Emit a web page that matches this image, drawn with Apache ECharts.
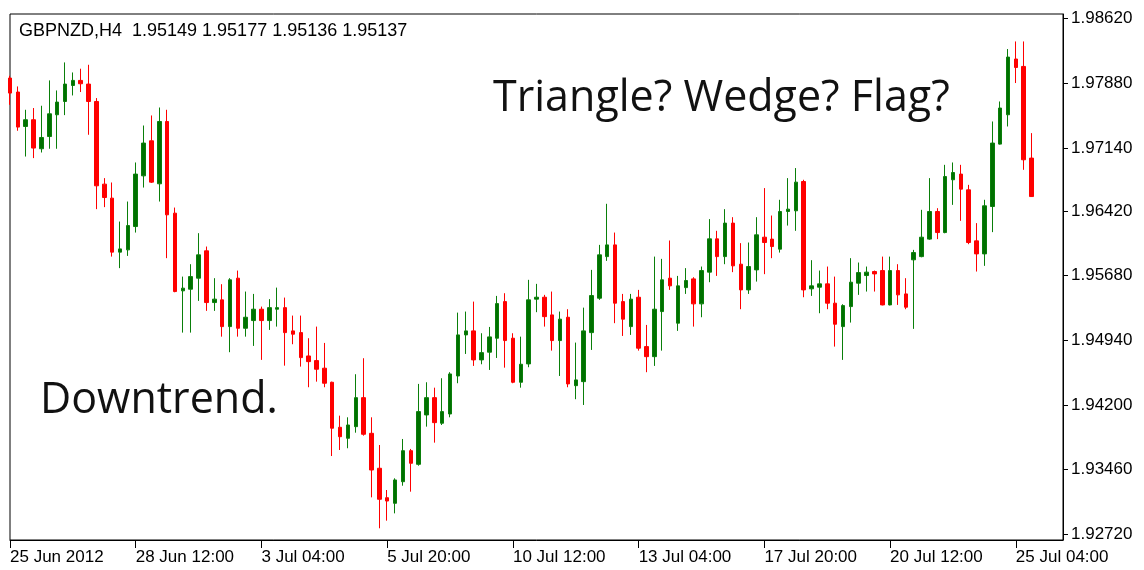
<!DOCTYPE html>
<html>
<head>
<meta charset="utf-8">
<title>GBPNZD,H4</title>
<script src="https://cdn.jsdelivr.net/npm/echarts@6/dist/echarts.min.js"></script>
<style>
  html, body { margin: 0; padding: 0; background: #fff; }
  #chart { width: 1144px; height: 570px; }
</style>
</head>
<body>
<div id="chart"></div>
<script>
// GBPNZD H4 bars (open / close / low / high)
var openP = [
  1.97941, 1.97781, 1.97387, 1.97464, 1.97132, 1.97272, 1.97521, 1.97673, 1.97856, 1.97914,
  1.97872, 1.97673, 1.96727, 1.96567, 1.95949, 1.95975, 1.96242, 1.96822, 1.97223, 1.96731,
  1.97444, 1.96395, 1.95506, 1.95525, 1.95651, 1.95964, 1.95372, 1.95403, 1.95097, 1.95651,
  1.95078, 1.95166, 1.95296, 1.95166, 1.95296, 1.95314, 1.95048, 1.95028, 1.94761, 1.94708,
  1.94621, 1.94460, 1.93945, 1.93819, 1.93952, 1.94284, 1.93876, 1.93476, 1.93139, 1.93075,
  1.93322, 1.93677, 1.93521, 1.94086, 1.94284, 1.93991, 1.94097, 1.94532, 1.95002, 1.95048,
  1.94716, 1.94804, 1.94964, 1.95383, 1.94964, 1.94460, 1.94670, 1.95411, 1.95433, 1.95231,
  1.94937, 1.95204, 1.94421, 1.94467, 1.95028, 1.95422, 1.95898, 1.96032, 1.95383, 1.95097,
  1.95433, 1.94868, 1.94753, 1.95269, 1.95651, 1.95136, 1.95543, 1.95643, 1.95357, 1.95720,
  1.96101, 1.95898, 1.96281, 1.95811, 1.95517, 1.95746, 1.96120, 1.96098, 1.95983, 1.96414,
  1.96422, 1.96757, 1.95529, 1.95548, 1.95586, 1.95365, 1.95097, 1.95326, 1.95594, 1.95681,
  1.95727, 1.95738, 1.95345, 1.95738, 1.95471, 1.95861, 1.95898, 1.96098, 1.96414, 1.96173,
  1.96777, 1.96842, 1.96662, 1.96078, 1.95929, 1.96471, 1.97185, 1.97521, 1.98159, 1.98074,
  1.97025
];
var closeP = [
  1.97769, 1.97380, 1.97464, 1.97140, 1.97261, 1.97532, 1.97666, 1.97872, 1.97914, 1.97876,
  1.97673, 1.96708, 1.96574, 1.95949, 1.95986, 1.96253, 1.96842, 1.97197, 1.96750, 1.97444,
  1.96376, 1.95498, 1.95537, 1.95669, 1.95918, 1.95372, 1.95411, 1.95097, 1.95632, 1.95078,
  1.95204, 1.95296, 1.95166, 1.95314, 1.95314, 1.95028, 1.95010, 1.94742, 1.94696, 1.94609,
  1.94449, 1.93934, 1.93837, 1.93971, 1.94284, 1.93865, 1.93456, 1.93121, 1.93101, 1.93342,
  1.93677, 1.93533, 1.94124, 1.94284, 1.93998, 1.94124, 1.94555, 1.95002, 1.95048, 1.94716,
  1.94799, 1.94979, 1.95360, 1.94937, 1.94460, 1.94666, 1.95403, 1.95433, 1.95211, 1.94937,
  1.95182, 1.94441, 1.94487, 1.95048, 1.95452, 1.95918, 1.96032, 1.95365, 1.95182, 1.95411,
  1.94850, 1.94753, 1.95296, 1.95632, 1.95563, 1.95563, 1.95624, 1.95357, 1.95738, 1.96101,
  1.95898, 1.96281, 1.95792, 1.95517, 1.95784, 1.96147, 1.96059, 1.96013, 1.96414, 1.96441,
  1.96750, 1.95517, 1.95563, 1.95586, 1.95365, 1.95124, 1.95337, 1.95605, 1.95715, 1.95720,
  1.95700, 1.95345, 1.95738, 1.95460, 1.95319, 1.95944, 1.96120, 1.96414, 1.96173, 1.96814,
  1.96860, 1.96670, 1.96059, 1.95929, 1.96479, 1.97197, 1.97598, 1.98181, 1.98062, 1.97006,
  1.96585
];
var lowP = [
  1.97635, 1.97338, 1.97043, 1.97025, 1.97089, 1.97132, 1.97132, 1.97517, 1.97742, 1.97781,
  1.97292, 1.96441, 1.96464, 1.95898, 1.95766, 1.95906, 1.96173, 1.96688, 1.96740, 1.96528,
  1.95880, 1.95490, 1.95028, 1.95028, 1.95391, 1.95277, 1.95277, 1.94982, 1.94804, 1.94982,
  1.94982, 1.94876, 1.94716, 1.95059, 1.95097, 1.94650, 1.94895, 1.94639, 1.94403, 1.94467,
  1.94403, 1.93616, 1.93685, 1.93705, 1.93883, 1.93849, 1.93143, 1.92789, 1.92876, 1.92960,
  1.93276, 1.93208, 1.93505, 1.93952, 1.93769, 1.93971, 1.94059, 1.94449, 1.94784, 1.94647,
  1.94666, 1.94601, 1.94738, 1.94627, 1.94449, 1.94398, 1.94632, 1.95262, 1.95097, 1.94822,
  1.94532, 1.94403, 1.94266, 1.94200, 1.94830, 1.95403, 1.95849, 1.95136, 1.94990, 1.95002,
  1.94822, 1.94575, 1.94647, 1.94822, 1.95517, 1.95048, 1.95471, 1.95097, 1.95204, 1.95605,
  1.95677, 1.95811, 1.95720, 1.95296, 1.95471, 1.95612, 1.95697, 1.95880, 1.95944, 1.96253,
  1.96193, 1.95433, 1.95448, 1.95250, 1.95296, 1.94868, 1.94716, 1.95143, 1.95460, 1.95498,
  1.95498, 1.95340, 1.95340, 1.95345, 1.95296, 1.95071, 1.95890, 1.96090, 1.96098, 1.96165,
  1.96490, 1.96307, 1.96040, 1.95727, 1.95792, 1.96178, 1.97180, 1.97387, 1.97884, 1.96891,
  1.96580
];
var highP = [
  1.97967, 1.97845, 1.97578, 1.97598, 1.97624, 1.97914, 1.97799, 1.98120, 1.98005, 1.98048,
  1.98093, 1.97712, 1.96796, 1.96746, 1.96299, 1.96528, 1.96975, 1.97398, 1.97513, 1.97604,
  1.97578, 1.96459, 1.95669, 1.95811, 1.96166, 1.96013, 1.95651, 1.95582, 1.95651, 1.95738,
  1.95498, 1.95471, 1.95326, 1.95411, 1.95543, 1.95429, 1.95223, 1.95223, 1.94964, 1.95097,
  1.94910, 1.94467, 1.94078, 1.94059, 1.94552, 1.94735, 1.94059, 1.93742, 1.93227, 1.93361,
  1.93811, 1.93697, 1.94441, 1.94460, 1.94398, 1.94506, 1.94575, 1.95257, 1.95269, 1.95383,
  1.95021, 1.95093, 1.95448, 1.95479, 1.95021, 1.94982, 1.95632, 1.95586, 1.95460, 1.95498,
  1.95269, 1.95296, 1.94914, 1.95314, 1.95746, 1.96032, 1.96502, 1.96173, 1.95471, 1.95471,
  1.95517, 1.95116, 1.95898, 1.95872, 1.96082, 1.95677, 1.95766, 1.95662, 1.95784, 1.96327,
  1.96193, 1.96441, 1.96349, 1.96052, 1.96059, 1.96349, 1.96682, 1.96368, 1.96548, 1.96796,
  1.96911, 1.96777, 1.95857, 1.95738, 1.95784, 1.95669, 1.95353, 1.95880, 1.95830, 1.95784,
  1.95738, 1.95898, 1.95898, 1.95811, 1.95651, 1.95975, 1.96433, 1.96796, 1.96452, 1.96948,
  1.96975, 1.96948, 1.96719, 1.96281, 1.96548, 1.97444, 1.97673, 1.98273, 1.98360, 1.98360,
  1.97311
];

// one time label every 16 bars, as on the terminal
var xTickLabels = ['25 Jun 2012', '28 Jun 12:00', '3 Jul 04:00', '5 Jul 20:00', '10 Jul 12:00',
                   '13 Jul 04:00', '17 Jul 20:00', '20 Jul 12:00', '25 Jul 04:00'];
var xTickStep = 16;
var shiftBars = 4; // empty space on the right (chart shift)
var yTickValues = [1.92720, 1.93460, 1.94200, 1.94940, 1.95680, 1.96420, 1.97140, 1.97880, 1.98620];

var categories = [];
for (var i = 0; i < openP.length + shiftBars; i++) categories.push(String(i));
var ohlc = openP.map(function (o, i) { return [o, closeP[i], lowP[i], highP[i]]; });

var smallFont = '"Liberation Sans", Arial, sans-serif';
var bigFont = '"Open Sans", "Noto Sans", sans-serif';

var chart = echarts.init(document.getElementById('chart'));
chart.setOption({
  animation: false,
  backgroundColor: '#fff',
  grid: {
    left: 10, right: 81, top: 14, bottom: 30,
    show: true, borderColor: '#000', borderWidth: 1, backgroundColor: '#fff'
  },
  xAxis: {
    type: 'category',
    data: categories,
    boundaryGap: false,
    axisLine: { show: true, lineStyle: { color: '#000', width: 1 } },
    axisTick: {
      show: true, length: 8,
      interval: function (idx) { return idx % xTickStep === 0; },
      lineStyle: { color: '#000' }
    },
    axisLabel: {
      interval: function (idx) { return idx % xTickStep === 0; },
      formatter: function (v, idx) { return xTickLabels[idx / xTickStep] || ''; },
      align: 'left',
      margin: 9,
      color: '#000',
      fontFamily: smallFont,
      fontSize: 17
    },
    splitLine: { show: false }
  },
  yAxis: {
    type: 'value',
    position: 'right',
    min: 1.92655,
    max: 1.98674,
    axisLine: { show: true, lineStyle: { color: '#000', width: 1 } },
    axisTick: { show: true, length: 5, customValues: yTickValues, lineStyle: { color: '#000' } },
    axisLabel: {
      customValues: yTickValues,
      formatter: function (v) { return v.toFixed(5); },
      margin: 8,
      color: '#000',
      fontFamily: smallFont,
      fontSize: 17
    },
    splitLine: { show: false }
  },
  series: [{
    type: 'candlestick',
    data: ohlc,
    barWidth: 4,
    itemStyle: {
      color: '#007000',
      color0: '#ff0000',
      borderColor: '#0a7f0a',
      borderColor0: '#ff0000',
      borderWidth: 1
    }
  }],
  graphic: [
    {
      type: 'text', x: 19, y: 31, z: 10,
      style: {
        text: 'GBPNZD,H4  1.95149 1.95177 1.95136 1.95137',
        font: '18px ' + smallFont, fill: '#000', verticalAlign: 'middle'
      }
    },
    {
      type: 'text', x: 493, y: 99, z: 10,
      style: { text: 'Triangle? Wedge? Flag?', font: '43px ' + bigFont, fill: '#111', verticalAlign: 'middle' }
    },
    {
      type: 'text', x: 40, y: 401, z: 10,
      style: { text: 'Downtrend.', font: '43px ' + bigFont, fill: '#111', verticalAlign: 'middle' }
    }
  ]
});
</script>
</body>
</html>
